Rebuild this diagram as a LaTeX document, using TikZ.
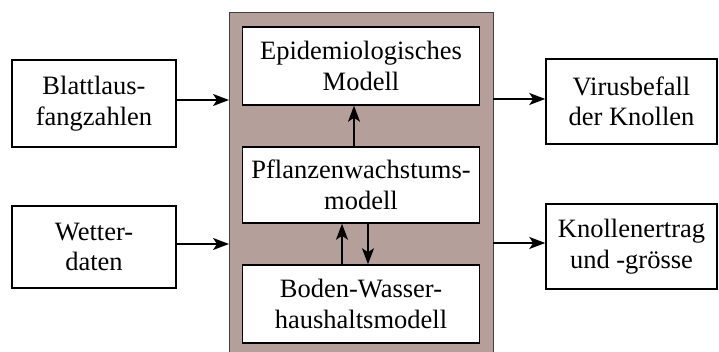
\documentclass[tikz,border=0pt]{standalone}
\usepackage{fontspec}
\setmainfont{Liberation Serif}
\usetikzlibrary{arrows.meta}
\definecolor{modelbrown}{RGB}{180,159,154}
\tikzset{
  x=1pt, y=-1pt,
  box/.style={draw=black, line width=1.5pt, fill=white, inner sep=0pt,
    align=center, font=\fontsize{26.5}{30.5}\selectfont},
  flow/.style={line width=1.8pt, -{Stealth[length=16pt,width=12pt,inset=4pt]}},
}
\begin{document}
\begin{tikzpicture}
\useasboundingbox (0,0) rectangle (719,352);
\clip (0,0) rectangle (719,352);
% surrounding model frame
\path[draw=black!75, line width=1pt, fill=modelbrown] (229,13) rectangle (493,370);
% inner models
\node[box, minimum width=237pt, minimum height=78pt] (epi) at (361,66) {Epidemiologisches\\Modell};
\node[box, minimum width=237pt, minimum height=76pt] (pfl) at (361,185) {Pflanzenwachstums-\\modell};
\node[box, minimum width=237pt, minimum height=78pt] (bod) at (361,304) {Boden-Wasser-\\haushaltsmodell};
% inputs
\node[box, minimum width=164pt, minimum height=87pt] (bla) at (94,103.5) {Blattlaus-\\fangzahlen};
\node[box, minimum width=164pt, minimum height=82pt] (wet) at (94,247) {Wetter-\\daten};
% outputs
\node[box, minimum width=171pt, minimum height=85pt] (vir) at (631.5,101.5) {Virusbefall\\der Knollen};
\node[box, minimum width=171pt, minimum height=85pt] (kno) at (631.5,246.5) {Knollenertrag\\und -grösse};
% frame edge anchors
\coordinate (inA) at (229,100);
\coordinate (inB) at (229,244);
\coordinate (outA) at (493,99);
\coordinate (outB) at (493,243);
% connectors
\draw[flow] (bla.east |- inA) -- (inA);
\draw[flow] (wet.east |- inB) -- (inB);
\draw[flow] (outA) -- (vir.west |- outA);
\draw[flow] (outB) -- (kno.west |- outB);
\draw[flow] (pfl.north -| 354,0) -- (epi.south -| 354,0);
\draw[flow] (bod.north -| 342,0) -- (pfl.south -| 342,0);
\draw[flow] (pfl.south -| 368,0) -- (bod.north -| 368,0);
\end{tikzpicture}
\end{document}
